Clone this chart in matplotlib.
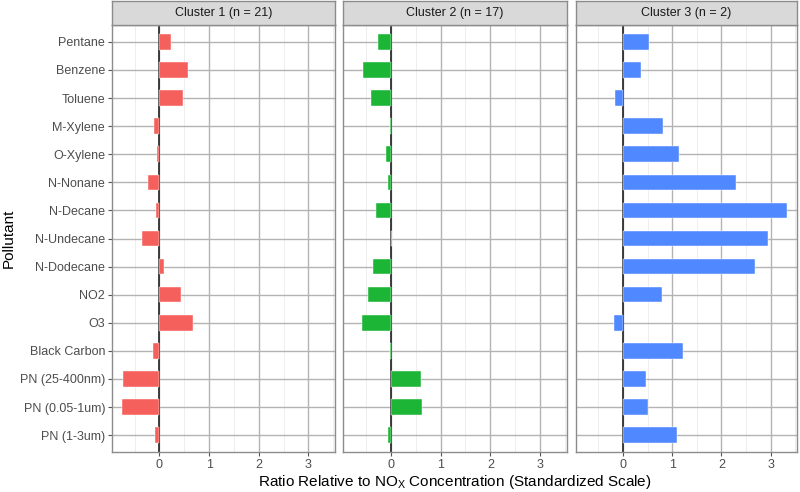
import matplotlib
matplotlib.use("Agg")
import matplotlib.pyplot as plt
import numpy as np

plt.rcParams["font.family"] = ["Liberation Sans", "DejaVu Sans"]
plt.rcParams["mathtext.fontset"] = "custom"
plt.rcParams["mathtext.rm"] = "Liberation Sans"

pollutants = ["Pentane", "Benzene", "Toluene", "M-Xylene", "O-Xylene", "N-Nonane",
              "N-Decane", "N-Undecane", "N-Dodecane", "NO2", "O3", "Black Carbon",
              "PN (25-400nm)", "PN (0.05-1um)", "PN (1-3um)"]

clusters = ["Cluster 1 (n = 21)", "Cluster 2 (n = 17)", "Cluster 3 (n = 2)"]

cluster1 = [0.23, 0.58, 0.47, -0.10, -0.05, -0.22, -0.07, -0.35, 0.09, 0.43, 0.67,
            -0.13, -0.73, -0.75, -0.09]
cluster2 = [-0.25, -0.55, -0.40, -0.02, -0.10, -0.05, -0.29, 0.02, -0.35, -0.46, -0.58,
            -0.02, 0.61, 0.63, -0.05]
cluster3 = [0.53, 0.36, -0.16, 0.82, 1.14, 2.30, 3.33, 2.94, 2.69, 0.80, -0.19,
            1.21, 0.47, 0.51, 1.10]

colors = ["#F5605C", "#1DB536", "#5089FF"]
series = [cluster1, cluster2, cluster3]

W, H = 800, 492
fig = plt.figure(figsize=(W / 100, H / 100), dpi=100)

# facet positions in pixels (left, right)
panels_px = [(112, 335), (343, 567), (576, 797)]
top_px, bottom_px, strip_h = 25, 452, 24

allvals = np.concatenate([cluster1, cluster2, cluster3])
lo, hi = allvals.min(), allvals.max()
pad = (hi - lo) * 0.05
xlim = (lo - pad, hi + pad)

ypos = np.arange(len(pollutants))[::-1] + 1

for i, (l, r) in enumerate(panels_px):
    ax = fig.add_axes([l / W, 1 - bottom_px / H, (r - l) / W, (bottom_px - top_px) / H])
    ax.set_xlim(xlim)
    ax.set_ylim(0.4, len(pollutants) + 0.6)
    ax.set_xticks([0, 1, 2, 3])
    ax.set_xticks([-0.5, 0.5, 1.5, 2.5, 3.5], minor=True)
    ax.set_yticks(ypos)
    ax.grid(which="major", color="#B3B3B3", linewidth=1.0, zorder=0)
    ax.grid(which="minor", axis="x", color="#EBEBEB", linewidth=0.6, zorder=0)
    ax.set_axisbelow(True)
    ax.axvline(0, color="#222222", linewidth=1.2, zorder=1)
    ax.barh(ypos, series[i], height=0.55, color=colors[i], edgecolor="white",
            linewidth=0.3, zorder=2)
    for s in ax.spines.values():
        s.set_color("#8C8C8C")
        s.set_linewidth(1.0)
    ax.tick_params(which="major", length=3, color="#555555", labelsize=9,
                   labelcolor="#4D4D4D", pad=2)
    ax.tick_params(which="minor", length=0)
    if i == 0:
        ax.set_yticklabels(pollutants)
    else:
        ax.set_yticklabels([])
        ax.tick_params(axis="y", length=0)

    sax = fig.add_axes([l / W, 1 - top_px / H, (r - l) / W, strip_h / H])
    sax.set_facecolor("#D9D9D9")
    sax.set_xticks([])
    sax.set_yticks([])
    for s in sax.spines.values():
        s.set_color("#8C8C8C")
        s.set_linewidth(1.0)
    sax.text(0.5, 0.5, clusters[i], ha="center", va="center", fontsize=9,
             color="#1A1A1A", transform=sax.transAxes)

fig.text(9 / W, 1 - 238 / H, "Pollutant", rotation=90, ha="center", va="center",
         fontsize=11)
fig.text((112 + 797) / 2 / W, 1 - 482 / H,
         r"Ratio Relative to NO$_\mathregular{X}$ Concentration (Standardized Scale)",
         ha="center", va="center", fontsize=11)

fig.savefig("out.png", dpi=100)
